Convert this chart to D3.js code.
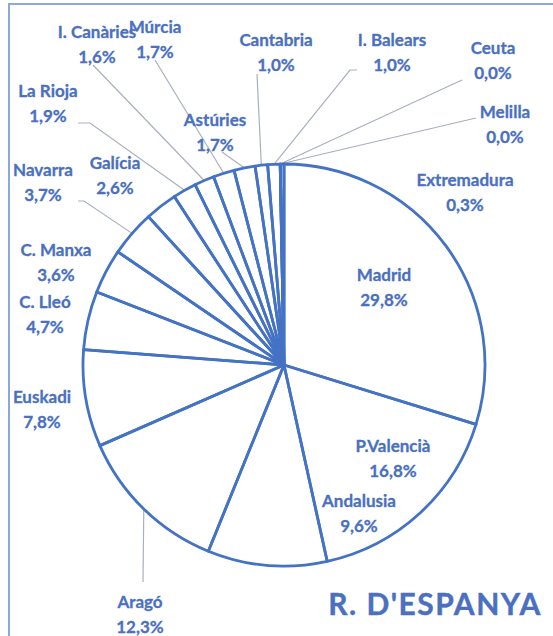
<!DOCTYPE html>
<html>
<head>
<meta charset="utf-8">
<script src="https://cdn.jsdelivr.net/npm/d3@7"></script>
<style>
  body { margin: 0; background: #fff; }
  svg text { font-family: Lato, "Open Sans", sans-serif; font-weight: bold; fill: #4a70bf; }
</style>
</head>
<body>
<svg id="chart" width="553" height="636"></svg>
<script>
// regions, in the order the slices run clockwise from the top
const regions = ["Madrid", "P.Valencià", "Andalusia", "Aragó", "Euskadi", "C. Lleó", "C. Manxa",
                 "Navarra", "Galícia", "La Rioja", "I. Canàries", "Múrcia", "Astúries", "Cantabria",
                 "I. Balears", "Ceuta", "Melilla", "Extremadura"];
const shares = [29.8, 16.8, 9.6, 12.3, 7.8, 4.7, 3.6, 3.7, 2.6, 1.9, 1.6, 1.7, 1.7, 1.0, 1.0, 0.0, 0.0, 0.3];
const title = "R. D'ESPANYA";

// where each label sits (centre of first line) and where its leader starts, if any
const labelAt = {
  "Madrid": [384, 275], "P.Valencià": [393, 446], "Andalusia": [359, 501], "Aragó": [140, 602],
  "Euskadi": [42, 397], "C. Lleó": [45, 302], "C. Manxa": [56, 250], "Navarra": [43, 170],
  "Galícia": [115, 163], "La Rioja": [48, 91], "I. Canàries": [97, 32], "Múrcia": [155, 27],
  "Astúries": [215, 120], "Cantabria": [276, 40], "I. Balears": [392, 40], "Ceuta": [493, 48],
  "Melilla": [505, 112], "Extremadura": [465, 180]
};
const leaderFrom = {
  "Aragó": [[143, 582]], "Navarra": [[78, 201], [84, 201]], "La Rioja": [[78, 123], [90, 123]],
  "I. Canàries": [[93, 65]], "Múrcia": [[155, 60]], "Astúries": [[222, 152]],
  "Cantabria": [[257, 74]], "I. Balears": [[357, 70], [350, 70]], "Ceuta": [[462, 80]],
  "Melilla": [[476, 118]]
};

const svg = d3.select("#chart");
const cx = 284, cy = 365, r = 201;
const fmt = v => d3.format(".1f")(v).replace(".", ",") + "%";

svg.append("rect")
   .attr("x", 9).attr("y", 4).attr("width", 560).attr("height", 660)
   .attr("fill", "none").attr("stroke", "#8ea6db").attr("stroke-width", 2);

const data = regions.map((name, i) => ({name: name, value: shares[i]}));
const pie = d3.pie().sort(null).value(d => d.value);
const arcs = pie(data);
const arc = d3.arc().innerRadius(0).outerRadius(r);
const edge = d3.arc().innerRadius(r).outerRadius(r);

const g = svg.append("g").attr("transform", `translate(${cx},${cy})`);

// leader lines first so the slices sit over them
arcs.forEach(a => {
    let from = leaderFrom[a.data.name];
    if (!from) return;
    let end = edge.centroid(a);
    let pts = from.map(p => [p[0] - cx, p[1] - cy]).concat([end]);
    g.append("path")
     .attr("d", d3.line()(pts))
     .attr("fill", "none")
     .attr("stroke", "#a9b0bd")
     .attr("stroke-width", 1.2);
});

g.selectAll("path.slice")
 .data(arcs)
 .enter().append("path")
 .attr("class", "slice")
 .attr("d", arc)
 .attr("fill", "#fff")
 .attr("fill-opacity", 0)
 .attr("stroke", "#4472c4")
 .attr("stroke-width", 2.8)
 .attr("stroke-linejoin", "round");

const labels = svg.selectAll("text.lbl")
    .data(arcs)
    .enter().append("text")
    .attr("class", "lbl")
    .attr("text-anchor", "middle")
    .attr("font-size", 17)
    .attr("stroke", "#4a70bf")
    .attr("stroke-width", 0.3);
labels.append("tspan")
    .attr("x", d => labelAt[d.data.name][0])
    .attr("y", d => labelAt[d.data.name][1])
    .attr("dy", "0.35em")
    .text(d => d.data.name);
labels.append("tspan")
    .attr("x", d => labelAt[d.data.name][0])
    .attr("y", d => labelAt[d.data.name][1] + 25)
    .attr("dy", "0.35em")
    .text(d => fmt(d.data.value));

svg.append("text")
   .attr("x", 435).attr("y", 615)
   .attr("text-anchor", "middle")
   .attr("font-size", 30)
   .attr("letter-spacing", 1.5)
   .attr("stroke", "#4a70bf")
   .attr("stroke-width", 0.4)
   .text(title);
</script>
</body>
</html>
